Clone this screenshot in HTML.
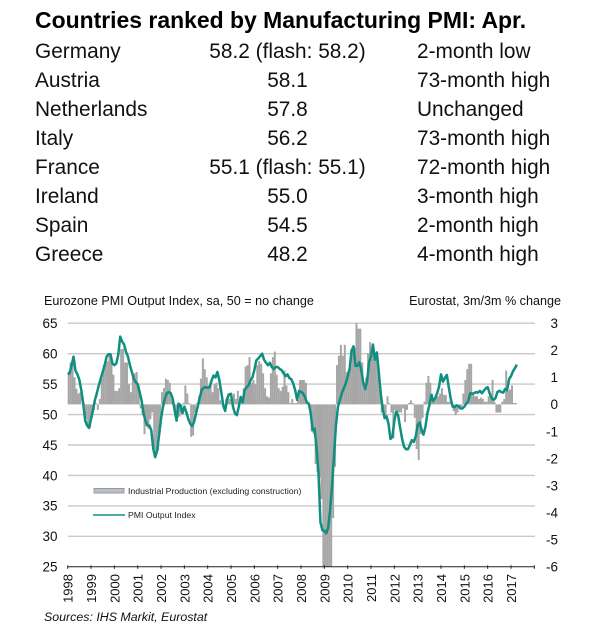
<!DOCTYPE html>
<html lang="en">
<head>
<meta charset="utf-8">
<title>Countries ranked by Manufacturing PMI</title>
<style>
html,body{margin:0;padding:0;background:#fff;width:600px;height:640px;overflow:hidden}
svg{display:block;font-family:"Liberation Sans",sans-serif}
</style>
</head>
<body>
<svg id="chart" xmlns="http://www.w3.org/2000/svg" width="600" height="640" viewBox="0 0 600 640">
<rect x="0" y="0" width="600" height="640" fill="#fff"/>
<text x="35" y="28" font-size="22.95" font-weight="700" fill="#000">Countries ranked by Manufacturing PMI: Apr.</text>
<g font-size="20.85" fill="#111">
<g><text x="35" y="58">Germany</text><text x="287.5" y="58" text-anchor="middle">58.2 (flash: 58.2)</text><text x="417" y="58">2-month low</text></g>
<g><text x="35" y="87">Austria</text><text x="287.5" y="87" text-anchor="middle">58.1</text><text x="417" y="87">73-month high</text></g>
<g><text x="35" y="116">Netherlands</text><text x="287.5" y="116" text-anchor="middle">57.8</text><text x="417" y="116">Unchanged</text></g>
<g><text x="35" y="145">Italy</text><text x="287.5" y="145" text-anchor="middle">56.2</text><text x="417" y="145">73-month high</text></g>
<g><text x="35" y="174">France</text><text x="287.5" y="174" text-anchor="middle">55.1 (flash: 55.1)</text><text x="417" y="174">72-month high</text></g>
<g><text x="35" y="203">Ireland</text><text x="287.5" y="203" text-anchor="middle">55.0</text><text x="417" y="203">3-month high</text></g>
<g><text x="35" y="232">Spain</text><text x="287.5" y="232" text-anchor="middle">54.5</text><text x="417" y="232">2-month high</text></g>
<g><text x="35" y="261">Greece</text><text x="287.5" y="261" text-anchor="middle">48.2</text><text x="417" y="261">4-month high</text></g>
</g>
<text x="44" y="305" font-size="12.6" fill="#111">Eurozone PMI Output Index, sa, 50 = no change</text>
<text x="561" y="305" font-size="12.6" fill="#111" text-anchor="end">Eurostat, 3m/3m % change</text>
<g id="grid"></g>
<g id="bars"></g>
<g id="axis"></g>
<g id="line"></g>
<g id="leftLabels"></g>
<g id="rightLabels"></g>
<g id="xLabels"></g>
<g>
<rect x="94" y="488.5" width="30" height="4.5" fill="#b9bfc8" stroke="#999" stroke-width="1"/>
<text x="128" y="494" font-size="8.7" fill="#222">Industrial Production (excluding construction)</text>
<line x1="93" y1="515" x2="125" y2="515" stroke="#12917f" stroke-width="1.6"/>
<text x="128" y="518" font-size="8.7" fill="#222">PMI Output Index</text>
</g>
<text x="44" y="621" font-size="12.4" font-style="italic" fill="#111">Sources: IHS Markit, Eurostat</text>
</svg>
<script>
var yearLabels = ['1998','1999','2000','2001','2002','2003','2004','2005','2006','2007','2008','2009','2010','2011','2012','2013','2014','2015','2016','2017'];
var leftTicks = [65,60,55,50,45,40,35,30,25];
var rightTicks = [3,2,1,0,-1,-2,-3,-4,-5,-6];
var pmiOutput = [
56.6,56.8,58.1,59.5,57.2,56.6,55.7,54,51.8,49,48.2,47.8,
49.3,50.7,52.4,53.5,54.8,55.9,57,58.1,59.5,59.9,59.9,58.4,
58.1,58.4,59.8,62.8,62,61.5,60.3,59.5,58.1,57,55.9,55.3,
55,53.7,52.3,50.2,49,48.2,48.2,47.4,44.4,43,44.1,46.6,
49.3,51.3,52.6,53.5,53.7,53.5,52.6,50.7,49,51.8,51.5,50.2,
51.3,50.4,49.3,48.5,48.1,48.8,50.2,51.5,52.9,54.1,54.4,54.5,
54.4,54.5,55.6,56.4,56.1,57,55.6,53.7,51.5,50.6,52.6,53.3,
53.4,51.3,50.2,49.9,51.3,52.9,52,54,54.5,54.8,55.6,56.1,
57.3,58.9,59.2,59.6,60,59,58.5,58.1,58.5,57.8,57.5,57.8,
57.8,57.5,57.3,56.8,56.3,56.6,56,55.8,55.1,54,52.4,53.9,
53.7,53.5,52.9,52,51.8,50.2,47.4,47.7,44.5,40.3,32.3,31,
30.9,30.5,31.5,34.5,38.5,43.5,48.3,51.3,52.4,53.5,54.3,55.1,
56.2,57.5,60.5,61.2,58,58,58.6,57.3,55.3,54.2,55.5,58.6,
59.6,61.5,59,60.2,57,53.5,51,49.4,49.7,48.5,46,46.3,
49,50.5,49.8,47.8,46,44.7,44.3,44.3,45,45.8,45.5,46.4,
48.3,48.7,47.5,46.7,48,50.2,51.5,53.2,52.2,52.7,53.5,54.6,
56.6,55.4,56,56.5,54.5,52.6,51.3,51.2,51.5,51.4,51,51,
51.3,51.8,52.2,53.5,53.4,53.5,53.7,53.6,53.9,53.5,53.9,54.3,
54.5,53.5,52.7,52.4,52.7,53.7,53.9,53.7,53.6,54.2,54,55.8,
56.3,57.1,57.6,58.2
];
var industrialProduction = [
1.22,1.55,1.5,1,0.58,0.4,0.45,0,-0.05,-0.55,-0.8,-0.85,
-0.5,-0.2,0.05,-0.2,0.2,0.95,1.45,1.55,1.6,1.8,1.75,1.1,
0.5,0.5,0.6,2.05,2.05,1.55,1.55,0.75,0.45,1.1,1.15,1.2,
0.7,-0.15,-0.4,-1.1,-0.8,-0.9,-0.55,-0.3,-1.65,-1.75,-1.7,-0.9,
0.45,0.6,0.95,0.9,0.8,0.2,0.05,-0.3,-0.5,-0.45,-0.3,0.05,
0.7,0.4,0.05,-1.2,-1.15,-0.3,0.05,0.3,0.95,1.7,1.3,1,
0.7,0.8,0.45,0.75,0.8,0.6,0.15,0.05,-0.2,0.2,0.4,0.2,
0.05,0.4,0.2,0.5,0.05,0.2,0.6,1.4,1.45,1.75,0.8,0.9,
0.75,1.45,1.6,1.5,1.15,0.6,0.3,0.25,1.15,1.75,1.95,1.1,
0.6,0.5,0.65,1.25,0.7,0.45,0.05,0.2,0.05,0.05,0.15,0.9,
0.9,0.9,0.8,0.05,-0.15,-1,-1.1,-2.2,-2.5,-2.7,-3.5,-6,
-6,-6,-6,-6,-4.2,-2.3,1.45,1.8,2.2,1.8,2.2,1.2,
1.3,1.45,2.05,2.1,3,2.8,2.8,1.55,0.6,1,1.9,2.3,
2,2,1.75,1.5,0.8,-0.3,-0.3,-0.45,0.3,0.05,-0.3,-1.25,
-0.2,-0.3,-0.3,-0.3,-0.15,-0.65,-0.2,0.05,0.15,0.05,-0.5,-1.65,
-2.05,-1.1,-0.5,0.1,0.8,1.05,0.8,0.4,0.1,0.3,0.3,0.4,
0.6,0.35,0.35,0.1,0.1,0.05,-0.25,-0.4,-0.3,-0.1,-0.1,0.4,
0.9,1.3,1.5,1.5,0.4,0.3,0.3,0.2,0.25,0.2,0.1,0.1,
0.3,0.3,0.9,0.1,-0.3,-0.3,-0.3,0.1,0.2,1.25,0.5,0.55,
0.7,0.05,0.05
];

var NS = 'http://www.w3.org/2000/svg';
function make(tag, attrs, parent) {
  var el = document.createElementNS(NS, tag);
  for (var k in attrs) el.setAttribute(k, attrs[k]);
  document.getElementById(parent).appendChild(el);
  return el;
}
function xMonth(i) { return 67.7 + i * (443.3 / 228); }
function yLeft(v) { return 323.2 + (65 - v) * (243.6 / 40); }
function yRight(v) { return 323.2 + (3 - v) * (243.6 / 9); }

leftTicks.forEach(function (t) {
  if (t !== 25) {
    var g = make('line', {x1: 67.7, x2: 535, y1: yLeft(t), y2: yLeft(t), stroke: '#c9c9c9', 'stroke-width': 1.4}, 'grid');
    
    
  }
  var lab = make('text', {x: 57.5, y: yLeft(t) + 4.8, 'font-size': 13.5, 'text-anchor': 'end', fill: '#111'}, 'leftLabels');
  lab.textContent = t;
  
  
});

rightTicks.forEach(function (t) {
  var lab = make('text', {x: 558, y: yRight(t) + 4.8, 'font-size': 13.5, 'text-anchor': 'end', fill: '#111'}, 'rightLabels');
  lab.textContent = t;
  
  
});

industrialProduction.forEach(function (v, i) {
  var y0 = yRight(0), y1 = yRight(v);
  var b = make('rect', {x: xMonth(i), y: Math.min(y0, y1), width: 2, height: Math.abs(y1 - y0), fill: '#a6a6a6'}, 'bars');
  
  
});

var base = make('line', {x1: 67.7, x2: 535, y1: yLeft(25), y2: yLeft(25), stroke: '#222', 'stroke-width': 1}, 'axis');



yearLabels.concat(['']).forEach(function (label, k) {
  var x = xMonth(k * 12);
  var tick = make('line', {x1: x, x2: x, y1: yLeft(25) - 1.5, y2: yLeft(25) + 2, stroke: '#222', 'stroke-width': 1}, 'axis');
  
  
  if (label) {
    var t = make('text', {transform: 'translate(' + (x + 5) + ',574) rotate(-90)', 'font-size': 13, 'text-anchor': 'end', fill: '#111'}, 'xLabels');
    t.textContent = label;
    
    
  }
});

var pts = pmiOutput.map(function (v, i) { return xMonth(i).toFixed(2) + ',' + yLeft(v).toFixed(2); }).join(' ');
var pl = make('polyline', {points: pts, fill: 'none', stroke: '#0f8f80', 'stroke-width': 2.5, 'stroke-linejoin': 'round'}, 'line');


</script>
</body>
</html>
